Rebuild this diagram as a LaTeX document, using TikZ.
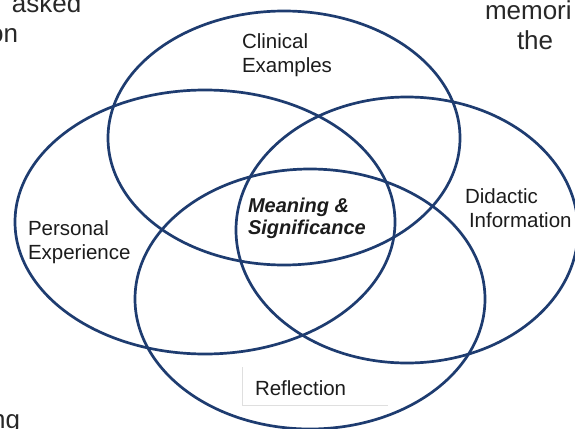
\documentclass[tikz,border=0pt]{standalone}
\usepackage{fontspec}
\setmainfont{Liberation Sans}
\definecolor{vennblue}{RGB}{30,60,112}
\definecolor{labeltxt}{RGB}{28,28,28}
\definecolor{fragtxt}{RGB}{40,40,40}
\begin{document}
\begin{tikzpicture}[x=1pt,y=-1pt,
  vennring/.style={draw=vennblue, line width=2.7pt},
  vennlabel/.style={inner sep=0pt, outer sep=0pt, text=labeltxt, align=left, anchor=base west,
    font=\fontsize{20.5}{24}\selectfont},
  corelabel/.style={inner sep=0pt, outer sep=0pt, text=labeltxt, align=left, anchor=base west,
    font=\fontsize{20}{22}\selectfont\bfseries\itshape},
  fragment/.style={inner sep=0pt, outer sep=0pt, text=fragtxt, font=\fontsize{26}{30}\selectfont}]
\useasboundingbox (0,0) rectangle (575,428);
\fill[white] (0,0) rectangle (575,428);
\clip (0,0) rectangle (575,428);

% faint box round Reflection
\draw[gray!25, line width=0.8pt] (242,367) -- (242,405) -- (388,405);

% the four rings
\draw[vennring] (284,138) ellipse [x radius=176pt, y radius=127pt];
\draw[vennring] (205,222) ellipse [x radius=190pt, y radius=132pt];
\draw[vennring] (407,230) ellipse [x radius=171pt, y radius=133pt];
\draw[vennring] (310,299) ellipse [x radius=175pt, y radius=130pt];

% labels (base = baseline of the last line)
\node[vennlabel] (clinical) at (242,72) {Clinical\\Examples};
\node[vennlabel] (personal) at (28,259) {Personal\\Experience};
\node[vennlabel] (didactic) at (465,227) {Didactic\\\hspace*{4pt}Information};
\node[corelabel] (meaning) at (248,234) {Meaning \&\\Significance};
\node[vennlabel] (reflection) at (255,395) {Reflection};

% cut-off text of the surrounding slide
\node[fragment, anchor=base west] (fragA) at (12,13) {asked};
\node[fragment, anchor=base east] (fragB) at (18,43) {on};
\node[fragment, anchor=base west] (fragC) at (485,20) {memori};
\node[fragment, anchor=base west] (fragD) at (517,50) {the};
\node[fragment, anchor=base east] (fragE) at (20,428) {ng};
\end{tikzpicture}
\end{document}
